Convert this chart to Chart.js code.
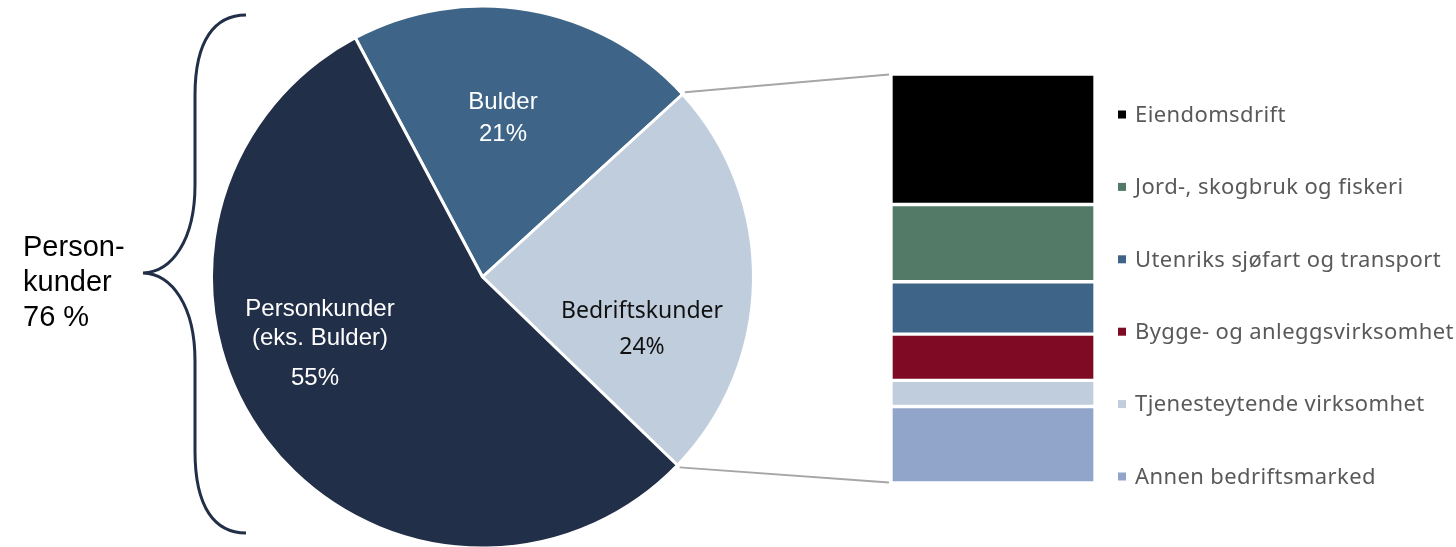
<!DOCTYPE html>
<html>
<head>
<meta charset="utf-8">
<script src="https://cdn.jsdelivr.net/npm/chart.js@4.4.1/dist/chart.umd.min.js"></script>
<style>
  html, body { margin: 0; padding: 0; background: #fff; }
  #wrap { position: relative; width: 1456px; height: 547px; overflow: hidden; }
  #pie { position: absolute; left: 0; top: 0; }
  #bar { position: absolute; left: 891px; top: 74px; z-index: 2; }
</style>
</head>
<body>
<div id="wrap">
  <canvas id="pie" width="1456" height="547"></canvas>
  <canvas id="bar" width="204" height="409"></canvas>
</div>
<script>
// ---- Data ----
const pieLabels = ['Bulder', 'Bedriftskunder', 'Personkunder'];
const pieValues = [21, 24, 55];
const pieColors = ['#3e6587', '#c0cddd', '#222f48'];
const pieTextLines = [['Bulder', '21%'], ['Bedriftskunder', '24%'], ['Personkunder', '(eks. Bulder)', '55%']];

const segLabels = ['Eiendomsdrift', 'Jord-, skogbruk og fiskeri', 'Utenriks sjøfart og transport',
                   'Bygge- og anleggsvirksomhet', 'Tjenesteytende virksomhet', 'Annen bedriftsmarked'];
const segValues = [31.9, 18.9, 12.8, 11.3, 6.4, 18.7];
const segColors = ['#000000', '#527a67', '#3e6587', '#7e0a24', '#c0cddd', '#91a5cb'];

const braceLines = ['Person-', 'kunder', '76 %'];

// ---- Bar (breakdown of Bedriftskunder) ----
const barChart = new Chart(document.getElementById('bar'), {
  type: 'bar',
  data: {
    labels: [''],
    datasets: segLabels.map((l, i) => ({
      label: l, data: [segValues[i]], backgroundColor: segColors[i],
      borderColor: '#ffffff', borderWidth: 2, borderSkipped: false,
      categoryPercentage: 1, barPercentage: 1
    }))
  },
  options: {
    responsive: false, animation: false,
    layout: { padding: 0 },
    plugins: { legend: { display: false }, tooltip: { enabled: false } },
    scales: {
      x: { display: false, stacked: true },
      y: { display: false, stacked: true, reverse: true, min: 0, max: 100 }
    }
  }
});

// ---- Pie with decorations ----
const decor = {
  id: 'decor',
  afterDraw(chart) {
    const ctx = chart.ctx;
    const meta = chart.getDatasetMeta(0);
    const a0 = meta.data[0];
    const cx = a0.x, cy = a0.y, r = a0.outerRadius;

    // slice labels
    const labelPos = [
      { x: 503, y: [102, 134], color: '#ffffff', font: '24px "Liberation Sans", Arial, sans-serif' },
      { x: 642, y: [311, 347], color: '#111111', font: '23px "Noto Sans", sans-serif' },
      { x: 320, y: [309, 338, 378], color: '#ffffff', font: '24px "Liberation Sans", Arial, sans-serif' }
    ];
    ctx.save();
    ctx.textAlign = 'center';
    ctx.textBaseline = 'middle';
    pieTextLines.forEach((lines, i) => {
      const p = labelPos[i];
      ctx.fillStyle = p.color;
      ctx.font = p.font;
      lines.forEach((t, j) => {
        const dx = (i === 2 && j === 2) ? -5 : 0;
        ctx.fillText(t, p.x + dx, p.y[j]);
      });
    });
    ctx.restore();

    // connector lines from Bedriftskunder slice edges to the bar
    const bed = meta.data[1];
    const barLeft = 889;
    const barTop = 74 + barChart.chartArea.top;
    const barBottom = 74 + barChart.chartArea.bottom;
    ctx.save();
    ctx.strokeStyle = '#a6a6a6';
    ctx.lineWidth = 1.8;
    const rr = r + 3;
    ctx.beginPath();
    ctx.moveTo(cx + rr * Math.cos(bed.startAngle), cy + rr * Math.sin(bed.startAngle));
    ctx.lineTo(barLeft, barTop + 0.5);
    ctx.moveTo(cx + rr * Math.cos(bed.endAngle), cy + rr * Math.sin(bed.endAngle));
    ctx.lineTo(barLeft, barBottom - 0.5);
    ctx.stroke();
    ctx.restore();

    // brace
    ctx.save();
    ctx.strokeStyle = '#222f48';
    ctx.lineWidth = 3;
    ctx.beginPath();
    ctx.moveTo(246, 15);
    ctx.bezierCurveTo(215, 15, 195, 40, 195, 95);
    ctx.lineTo(195, 185);
    ctx.bezierCurveTo(195, 240, 172, 272, 143, 273);
    ctx.bezierCurveTo(172, 274, 195, 306, 195, 361);
    ctx.lineTo(195, 451);
    ctx.bezierCurveTo(195, 508, 215, 533, 246, 533);
    ctx.stroke();
    ctx.restore();

    // brace text
    ctx.save();
    ctx.fillStyle = '#000000';
    ctx.font = '29px "Liberation Sans", Arial, sans-serif';
    ctx.textAlign = 'left';
    ctx.textBaseline = 'alphabetic';
    braceLines.forEach((t, i) => ctx.fillText(t, 23, 256 + i * 35));
    ctx.restore();

    // legend
    ctx.save();
    ctx.font = '22px "Noto Sans", sans-serif';
    try { ctx.letterSpacing = '0.4px'; } catch (e) {}
    ctx.textAlign = 'left';
    ctx.textBaseline = 'middle';
    segLabels.forEach((t, i) => {
      const y = 114.5 + i * 72.4;
      ctx.fillStyle = segColors[i];
      ctx.fillRect(1118, y - 4, 8, 8);
      ctx.fillStyle = '#595959';
      ctx.fillText(t, 1135, y + 1);
    });
    ctx.restore();
  }
};

new Chart(document.getElementById('pie'), {
  type: 'pie',
  data: {
    labels: pieLabels,
    datasets: [{ data: pieValues, backgroundColor: pieColors, borderColor: '#ffffff', borderWidth: 3, hoverOffset: 0 }]
  },
  options: {
    responsive: false, animation: false,
    rotation: -28,
    radius: 271,
    layout: { padding: { left: 210, right: 701, top: 7, bottom: 0 } },
    plugins: { legend: { display: false }, tooltip: { enabled: false } }
  },
  plugins: [decor]
});
</script>
</body>
</html>
